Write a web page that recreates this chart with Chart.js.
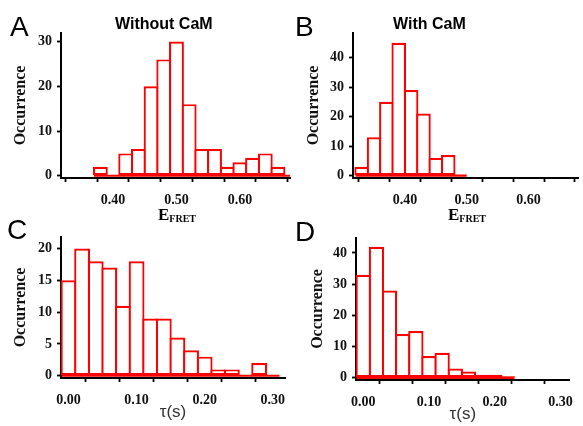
<!DOCTYPE html>
<html>
<head>
<meta charset="utf-8">
<script src="https://cdn.jsdelivr.net/npm/chart.js@4.4.0/dist/chart.umd.min.js"></script>
<style>
html,body{margin:0;padding:0;background:#fff;}
body{width:583px;height:426px;position:relative;overflow:hidden;}
canvas{position:absolute;}
.lbl{position:absolute;font-family:"Liberation Sans",Arial,sans-serif;line-height:1;color:#000;z-index:2;white-space:nowrap;}
.letter{font-size:28px;}
.ttl{font-size:16px;font-weight:bold;}
.efret{font-family:"Liberation Serif","Times New Roman",serif;font-weight:bold;font-size:17px;transform:translateX(-50%);}
.efret sub{font-size:10px;vertical-align:baseline;position:relative;top:2px;}
</style>
</head>
<body>
<canvas id="cA"></canvas>
<canvas id="cB"></canvas>
<canvas id="cC"></canvas>
<canvas id="cD"></canvas>

<div class="lbl letter" style="left:10px;top:13px">A</div>
<div class="lbl letter" style="left:295px;top:13px">B</div>
<div class="lbl letter" style="left:7px;top:216px">C</div>
<div class="lbl letter" style="left:295px;top:218px">D</div>
<div class="lbl ttl" style="left:115px;top:16px">Without CaM</div>
<div class="lbl ttl" style="left:393px;top:16px">With CaM</div>
<div class="lbl efret" style="left:177px;top:206px">E<sub>FRET</sub></div>
<div class="lbl efret" style="left:467px;top:206px">E<sub>FRET</sub></div>

<script>
// ticks
const efretTicks = [0.35, 0.40, 0.45, 0.50, 0.55, 0.60, 0.65];
const tauTicks = [0.00, 0.05, 0.10, 0.15, 0.20, 0.25, 0.30];
const occTicksA = [0, 10, 20, 30];
const occTicksB = [0, 10, 20, 30, 40];
const occTicksC = [0, 5, 10, 15, 20];
const occTicksD = [0, 10, 20, 30, 40];

// A : without CaM, E_FRET histogram (bin centres, bin width 0.02)
const binsA = [0.38, 0.40, 0.42, 0.44, 0.46, 0.48, 0.50, 0.52, 0.54, 0.56, 0.58, 0.60, 0.62, 0.64, 0.66];
const countsA = [2, 0, 5, 6, 20, 26, 30, 16, 6, 6, 2, 3, 4, 5, 2];
const baseA = [0.37, 0.68];

// B : with CaM
const binsB = [0.33, 0.35, 0.37, 0.39, 0.41, 0.43, 0.45, 0.47, 0.49];
const countsB = [3, 13, 25, 45, 29, 21, 6, 7, 0];
const baseB = [0.32, 0.50];

// C : dwell time without CaM
const binsC = [0.00, 0.02, 0.04, 0.06, 0.08, 0.10, 0.12, 0.14, 0.16, 0.18, 0.20, 0.22, 0.24, 0.26, 0.28, 0.30];
const countsC = [15, 20, 18, 17, 11, 18, 9, 9, 6, 4, 3, 1, 1, 0, 2, 0];
const baseC = [-0.01, 0.31];

// D : dwell time with CaM
const binsD = [0.00, 0.02, 0.04, 0.06, 0.08, 0.10, 0.12, 0.14, 0.16, 0.18, 0.20, 0.22];
const countsD = [33, 42, 28, 14, 15, 7, 8, 3, 2, 1, 1, 0.5];
const baseD = [-0.01, 0.23];

const BIN = 0.02;
const RED = "#ff0000";
const serif = "'Liberation Serif','Times New Roman',serif";

function panel(id, o){
  const yw = 50, xh = 46, pt = 15, pr = Math.min(15, 583 - o.r);
  const cv = document.getElementById(id);
  const left = o.l - yw, top = o.t - pt;
  cv.width = o.r + pr - left;
  cv.height = o.b + xh - top;
  cv.style.left = left + "px";
  cv.style.top = top + "px";

  // bars overlap by one border so shared edges are not doubled
  const bw = 2.2;
  const binPx = BIN * (o.r - o.l) / (o.xr[1] - o.xr[0]);
  const barPct = (binPx + bw) / binPx;

  const tickFont = {family: serif, size: 14, weight: "bold"};
  new Chart(cv, {
    type: "bar",
    data: {
      datasets: [
        {
          type: "line",
          data: o.base.map(x => ({x, y: 0})),
          borderColor: RED, borderWidth: 2.2, pointRadius: 0, order: 2
        },
        {
          data: o.bins.map((x, i) => ({x, y: o.counts[i]})),
          backgroundColor: "#fff", borderColor: RED, borderWidth: bw, inflateAmount: 0,
          borderSkipped: false, barPercentage: barPct, categoryPercentage: 1, order: 1
        }
      ]
    },
    options: {
      responsive: false, animation: false,
      layout: {padding: {top: pt, right: pr, left: 0, bottom: 0}},
      plugins: {legend: {display: false}, tooltip: {enabled: false}},
      scales: {
        x: {
          type: "linear", offset: false, min: o.xr[0], max: o.xr[1],
          afterBuildTicks: s => { s.ticks = o.xt.map(v => ({value: v})); },
          afterFit: s => { s.height = xh; },
          ticks: {
            font: tickFont, color: "#111", padding: 10, maxRotation: 0, autoSkip: false,
            callback: v => Math.round(v * 100) % 10 === 0 ? v.toFixed(2) : ""
          },
          grid: {drawOnChartArea: false, drawTicks: true, tickLength: 4, tickColor: "#000", tickWidth: 1.8},
          border: {color: "#000", width: 2},
          title: o.xTitle ? {
            display: true, text: o.xTitle, color: "#333",
            font: {family: "'Liberation Sans',Arial,sans-serif", size: 17},
            padding: {top: 0, bottom: o.xtp}
          } : {display: false}
        },
        y: {
          min: o.yr[0], max: o.yr[1],
          afterBuildTicks: s => { s.ticks = o.yt.map(v => ({value: v})); },
          afterFit: s => { s.width = yw; },
          ticks: {font: tickFont, color: "#111", padding: 5, autoSkip: false},
          grid: {drawOnChartArea: false, drawTicks: true, tickLength: 4, tickColor: "#000", tickWidth: 1.8},
          border: {color: "#000", width: 2},
          title: {
            display: true, text: "Occurrence", color: "#111",
            font: {family: serif, size: 16, weight: "bold"},
            padding: {top: o.ytp, bottom: 0}
          }
        }
      }
    }
  });
}

panel("cA", {l: 61, t: 33, r: 290, b: 178, xr: [0.318, 0.679], yr: [-0.5, 31.9],
  xt: efretTicks, yt: occTicksA, bins: binsA, counts: countsA, base: baseA, ytp: 0});
panel("cB", {l: 353, t: 33, r: 578, b: 178, xr: [0.316, 0.680], yr: [-0.8, 48.3],
  xt: efretTicks, yt: occTicksB, bins: binsB, counts: countsB, base: baseB, ytp: 1});
panel("cC", {l: 61, t: 237, r: 285, b: 378, xr: [-0.011, 0.318], yr: [-0.35, 21.8],
  xt: tauTicks, yt: occTicksC, bins: binsC, counts: countsC, base: baseC, ytp: 0,
  xTitle: "τ(s)", xtp: 1});
panel("cD", {l: 356, t: 238, r: 578, b: 380, xr: [-0.011, 0.314], yr: [-0.7, 44.8],
  xt: tauTicks, yt: occTicksD, bins: binsD, counts: countsD, base: baseD, ytp: 2,
  xTitle: "τ(s)", xtp: 1});
</script>
</body>
</html>
